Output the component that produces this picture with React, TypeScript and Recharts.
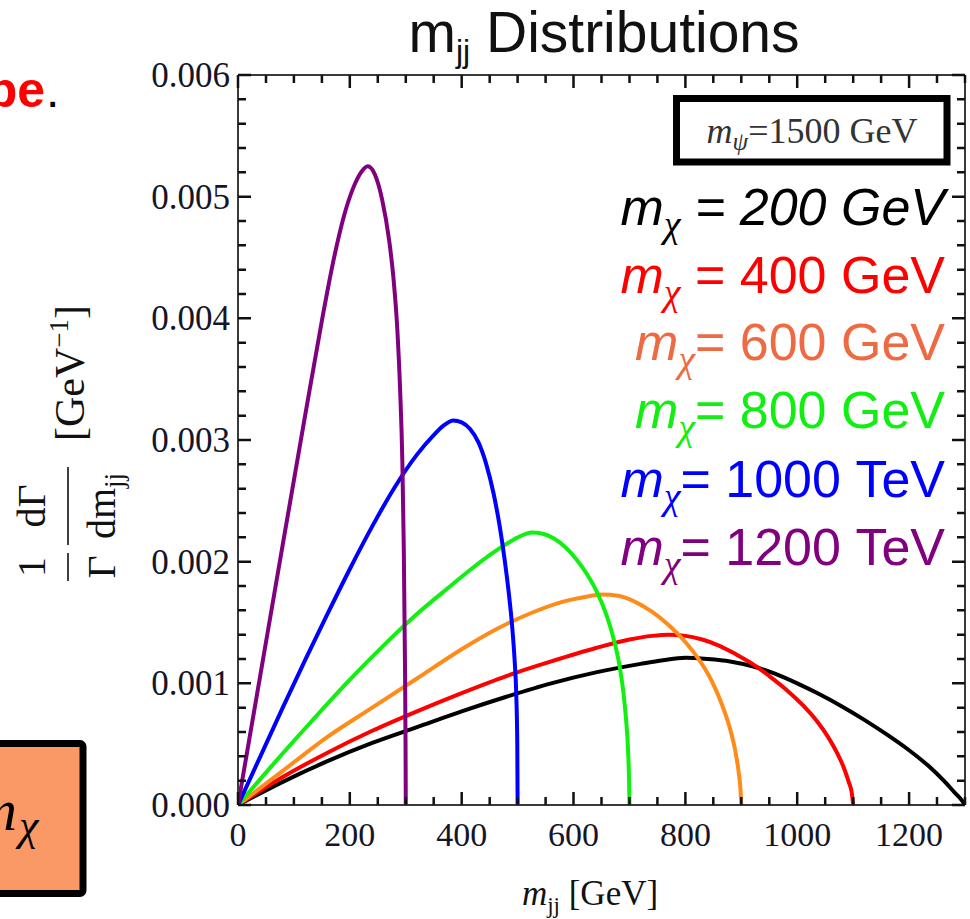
import { LineChart, Line, XAxis, YAxis, ReferenceLine } from 'recharts';

/* ------------------------------------------------------------------ */
/* Data: m_jj [GeV] and (1/Γ) dΓ/dm_jj [GeV^-1]     */
/* ------------------------------------------------------------------ */

const MJJ_200 = [0, 80, 160, 240, 320, 400, 480, 560, 640, 720, 760, 800, 840, 880, 920, 960, 1000, 1040, 1080, 1120, 1160, 1200, 1235, 1262, 1282, 1294, 1300];
const DIST_200 = [0, 0.00019, 0.00036, 0.00051, 0.00064, 0.00077, 0.00089, 0.001, 0.00109, 0.00116, 0.00119, 0.00121, 0.0012, 0.00118, 0.00114, 0.00108, 0.001, 0.00091, 0.00081, 0.0007, 0.00058, 0.00045, 0.00032, 0.0002, 0.0001, 0.00004, 0];

const MJJ_400 = [0, 80, 160, 240, 320, 400, 480, 560, 640, 700, 740, 770, 800, 830, 860, 890, 920, 950, 980, 1010, 1035, 1055, 1071, 1083, 1092, 1097.5, 1100];
const DIST_400 = [0, 0.00023, 0.00043, 0.00061, 0.00077, 0.00092, 0.00106, 0.00118, 0.00129, 0.00136, 0.00139, 0.0014, 0.00139, 0.00136, 0.00131, 0.00124, 0.00116, 0.00106, 0.00095, 0.00082, 0.00069, 0.00056, 0.00043, 0.00031, 0.00019, 0.0001, 0];

const MJJ_600 = [0, 80, 160, 240, 320, 400, 460, 520, 580, 620, 650, 680, 710, 740, 770, 800, 825, 847, 865, 879, 889, 895, 898.5, 900];
const DIST_600 = [0, 0.00028, 0.00056, 0.0008, 0.00104, 0.00128, 0.00144, 0.00157, 0.00167, 0.00171, 0.00173, 0.00172, 0.00167, 0.00159, 0.00148, 0.00134, 0.00119, 0.00102, 0.00083, 0.00064, 0.00045, 0.00028, 0.00013, 0];

const MJJ_800 = [0, 60, 130, 200, 260, 320, 380, 420, 455, 485, 505, 525, 545, 565, 585, 605, 625, 643, 659, 672, 682, 689, 694, 697.5, 699.3, 700];
const DIST_800 = [0, 0.00032, 0.00068, 0.00103, 0.00131, 0.00157, 0.0018, 0.00195, 0.00207, 0.00216, 0.00221, 0.00224, 0.00223, 0.00219, 0.00212, 0.00202, 0.00189, 0.00174, 0.00156, 0.00136, 0.00115, 0.00093, 0.0007, 0.00045, 0.0002, 0];

const MJJ_1000 = [0, 40, 80, 120, 160, 200, 240, 280, 320, 350, 368, 385, 400, 415, 430, 444, 457, 468, 477, 484, 490, 494.5, 497.5, 499.4, 500];
const DIST_1000 = [0, 0.0004, 0.0008, 0.00119, 0.00157, 0.00194, 0.00229, 0.00261, 0.00288, 0.00304, 0.00312, 0.00316, 0.003145, 0.00309, 0.00298, 0.0028, 0.00256, 0.00229, 0.00201, 0.00175, 0.00148, 0.0012, 0.00092, 0.0005, 0];

const MJJ_1200 = [0, 40, 80, 120, 150, 170, 190, 205, 220, 232, 245, 258, 270, 278, 285, 290, 294, 296.5, 298.5, 299.6, 300];
const DIST_1200 = [0, 0.00107, 0.00214, 0.0032, 0.00398, 0.00446, 0.00485, 0.00506, 0.0052, 0.00525, 0.00518, 0.00497, 0.00465, 0.00433, 0.0039, 0.0034, 0.0028, 0.0021, 0.0012, 0.0005, 0];

const M_CHI = [200, 400, 600, 800, 1000, 1200];
const M_CHI_UNIT = ['GeV', 'GeV', 'GeV', 'GeV', 'TeV', 'TeV'];

const X_MAJOR = [0, 200, 400, 600, 800, 1000, 1200];
const Y_MAJOR = [0, 0.001, 0.002, 0.003, 0.004, 0.005, 0.006];

/* ------------------------------------------------------------------ */
/* Style / layout                                                      */
/* ------------------------------------------------------------------ */

const SERIF = '"Liberation Serif", "DejaVu Serif", serif';
const SANS = '"Liberation Sans", Arial, sans-serif';
const FRAME = '#3a3a3a';
const TICK = '#111';
const TICK_TEXT = '#15152a';

const W = 970;
const H = 919;
const PLOT_LEFT = 238;
const PLOT_TOP = 75;
const PLOT_RIGHT = 965;
const PLOT_BOTTOM = 805;
const X_MAX = 1300;
const Y_MAX = 0.006;

const SERIES = [
  { name: '200', x: MJJ_200, y: DIST_200, color: '#000000', text: '#000000' },
  { name: '400', x: MJJ_400, y: DIST_400, color: '#ff0000', text: '#ff0000' },
  { name: '600', x: MJJ_600, y: DIST_600, color: '#ff8c1a', text: '#ee6a43' },
  { name: '800', x: MJJ_800, y: DIST_800, color: '#11f011', text: '#11ee11' },
  { name: '1000', x: MJJ_1000, y: DIST_1000, color: '#0000ff', text: '#0000ff' },
  { name: '1200', x: MJJ_1200, y: DIST_1200, color: '#800080', text: '#800080' },
].map((s) => ({ ...s, data: s.x.map((x, i) => ({ x, y: s.y[i] })) }));

const X_TICKS = Array.from({ length: 27 }, (_, i) => i * 50);
const Y_TICKS = Array.from({ length: 31 }, (_, i) => i / 5000);

const isYMajor = (v: number) => Y_MAJOR.some((m) => Math.abs(m - v) < 1e-9);

// frame tick positions (same linear mapping as the plot area)
const xPx = (v: number) => PLOT_LEFT + (v / X_MAX) * (PLOT_RIGHT - PLOT_LEFT);
const yPx = (v: number) => PLOT_BOTTOM - (v / Y_MAX) * (PLOT_BOTTOM - PLOT_TOP);

/* ------------------------------------------------------------------ */
/* Tick labels                                                         */
/* ------------------------------------------------------------------ */

function BottomLabel(props: any) {
  const { x, y, payload } = props;
  const v = payload.value as number;
  if (!X_MAJOR.includes(v)) return <g />;
  return (
    <text x={x} y={y + 41} textAnchor="middle" fontFamily={SERIF} fontSize={34} fill={TICK_TEXT}>
      {v}
    </text>
  );
}

function LeftLabel(props: any) {
  const { x, y, payload } = props;
  const v = payload.value as number;
  if (!isYMajor(v)) return <g />;
  return (
    <text x={x - 8} y={y + 12} textAnchor="end" fontFamily={SERIF} fontSize={35} fill={TICK_TEXT}>
      {v.toFixed(3)}
    </text>
  );
}

function FrameTicks() {
  const paths: string[] = [];
  X_TICKS.forEach((v) => {
    const len = X_MAJOR.includes(v) ? 13 : 8;
    const x = xPx(v).toFixed(1);
    paths.push(`M${x} ${PLOT_BOTTOM} L${x} ${PLOT_BOTTOM - len}`);
    paths.push(`M${x} ${PLOT_TOP} L${x} ${PLOT_TOP + len}`);
  });
  Y_TICKS.forEach((v) => {
    const len = isYMajor(v) ? 13 : 8;
    const y = yPx(v).toFixed(1);
    paths.push(`M${PLOT_LEFT} ${y} L${PLOT_LEFT + len} ${y}`);
    paths.push(`M${PLOT_RIGHT} ${y} L${PLOT_RIGHT - len} ${y}`);
  });
  return <path d={paths.join(' ')} stroke={TICK} strokeWidth={2.5} fill="none" />;
}

/* ------------------------------------------------------------------ */
/* Legend line: m_χ = ... GeV                                          */
/* ------------------------------------------------------------------ */

function LegendLine({ i, y }: { i: number; y: number }) {
  const s = SERIES[i];
  const allItalic = i === 0;
  const eq = i <= 1 ? ' = ' : '= ';
  return (
    <text
      x={945}
      y={y}
      textAnchor="end"
      fill={s.text}
      fontFamily={SANS}
      fontSize={52}
      fontStyle={allItalic ? 'italic' : 'normal'}
      style={{ whiteSpace: 'pre' }}
    >
      <tspan fontStyle="italic">m</tspan>
      <tspan fontFamily={SERIF} fontStyle="italic" fontSize={38} dy={12}>
        χ
      </tspan>
      <tspan dy={-12}>{`${eq}${M_CHI[i]} ${M_CHI_UNIT[i]}`}</tspan>
    </text>
  );
}

const LEGEND_BASELINES = [225, 293, 360, 428, 497, 565];

/* ------------------------------------------------------------------ */
/* App                                                                 */
/* ------------------------------------------------------------------ */

export default function App() {
  return (
    <div style={{ position: 'absolute', left: 0, top: 0, width: W, height: H, background: '#fff', overflow: 'hidden' }}>
      <LineChart width={W} height={H} margin={{ top: PLOT_TOP, right: W - PLOT_RIGHT, bottom: 0, left: 0 }}>
        <XAxis
          type="number"
          dataKey="x"
          domain={[0, X_MAX]}
          ticks={X_TICKS}
          interval={0}
          height={H - PLOT_BOTTOM}
          tickSize={0}
          tickMargin={0}
          tickLine={false}
          axisLine={{ stroke: FRAME, strokeWidth: 2 }}
          tick={(p: any) => <BottomLabel {...p} />}
          allowDataOverflow
        />
        <YAxis
          type="number"
          domain={[0, Y_MAX]}
          ticks={Y_TICKS}
          interval={0}
          width={PLOT_LEFT}
          tickSize={0}
          tickMargin={0}
          tickLine={false}
          axisLine={{ stroke: FRAME, strokeWidth: 2 }}
          tick={(p: any) => <LeftLabel {...p} />}
          allowDataOverflow
        />
        <ReferenceLine y={Y_MAX} stroke={FRAME} strokeWidth={2} />
        <ReferenceLine x={X_MAX} stroke={FRAME} strokeWidth={2} />
        {SERIES.map((s) => (
          <Line
            key={s.name}
            data={s.data}
            dataKey="y"
            type="monotone"
            stroke={s.color}
            strokeWidth={4}
            dot={false}
            activeDot={false}
            isAnimationActive={false}
          />
        ))}
      </LineChart>

      <svg width={W} height={H} style={{ position: 'absolute', left: 0, top: 0, pointerEvents: 'none' }}>
        <FrameTicks />

        {/* slide fragments */}
        <text x={45} y={107} textAnchor="end" fontFamily={SANS} fontWeight="bold" fontSize={50} fill="#ff0000">
          be
        </text>
        <text x={46} y={107} fontFamily={SANS} fontSize={48} fill="#000">
          .
        </text>
        <rect x={-20} y={743.5} width={103} height={150} rx={3} fill="#fb9966" stroke="#000" strokeWidth={7} />
        <text x={17} y={830} textAnchor="end" fontFamily={SERIF} fontStyle="italic" fontSize={60} fill="#000">
          m
        </text>
        <text x={19} y={840} fontFamily={SERIF} fontStyle="italic" fontSize={44} fill="#000">
          χ
        </text>

        {/* title */}
        <text x={604} y={52} textAnchor="middle" fontFamily={SANS} fontSize={57} fill="#111">
          <tspan>m</tspan>
          <tspan fontSize={32} dy={10}>
            jj
          </tspan>
          <tspan dy={-10}> Distributions</tspan>
        </text>

        {/* m_psi box */}
        <rect x={676.5} y={98.5} width={270.5} height={63.5} fill="#fff" stroke="#000" strokeWidth={7} />
        <text x={812} y={143} textAnchor="middle" fontFamily={SERIF} fontSize={36} fill="#333">
          <tspan fontStyle="italic">m</tspan>
          <tspan fontStyle="italic" fontSize={25} dy={7}>
            ψ
          </tspan>
          <tspan dy={-7}>=1500 GeV</tspan>
        </text>

        {LEGEND_BASELINES.map((y, i) => (
          <LegendLine key={i} i={i} y={y} />
        ))}

        {/* x axis title */}
        <text x={590} y={905} textAnchor="middle" fontFamily={SERIF} fontSize={35} fill="#111" style={{ whiteSpace: 'pre' }}>
          <tspan fontStyle="italic">m</tspan>
          <tspan fontSize={23} dy={8}>
            jj
          </tspan>
          <tspan dy={-8}> [GeV]</tspan>
        </text>

        {/* y axis title, rotated */}
        <g transform="translate(68,440) rotate(-90)" fontFamily={SERIF} fill="#111">
          <text x={-127} y={-23} textAnchor="middle" fontSize={40}>
            1
          </text>
          <line x1={-141} x2={-113} y1={0} y2={0} stroke="#111" strokeWidth={1.6} />
          <text x={-127} y={47} textAnchor="middle" fontSize={40}>
            Γ
          </text>
          <text x={-66} y={-23} textAnchor="middle" fontSize={40}>
            dΓ
          </text>
          <line x1={-105} x2={-27} y1={0} y2={0} stroke="#111" strokeWidth={1.6} />
          <text x={-66} y={47} textAnchor="middle" fontSize={40}>
            <tspan>dm</tspan>
            <tspan fontSize={27} dy={8}>
              jj
            </tspan>
          </text>
          <text x={67} y={16} textAnchor="middle" fontSize={42}>
            <tspan>[GeV</tspan>
            <tspan fontSize={27} dy={-16}>
              −1
            </tspan>
            <tspan dy={16}>]</tspan>
          </text>
        </g>
      </svg>
    </div>
  );
}
